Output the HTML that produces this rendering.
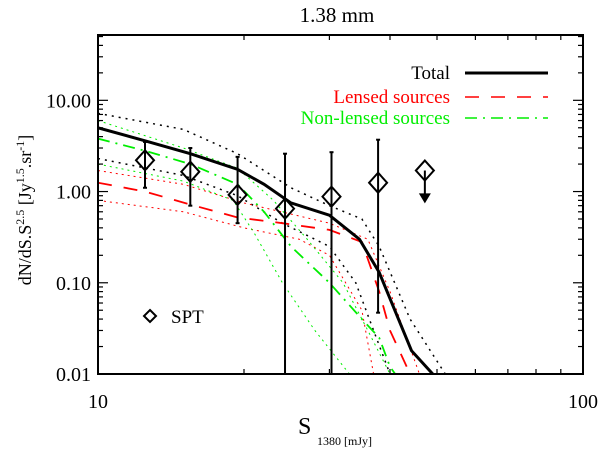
<!DOCTYPE html>
<html><head><meta charset="utf-8"><style>
body{margin:0;background:#fff}
svg text{font-family:"Liberation Serif",serif}
</style></head><body>
<svg id="chart" width="600" height="454" viewBox="0 0 600 454">
<text x="337" y="22" font-size="21" text-anchor="middle">1.38 mm</text>
<g id="plot"></g>
<g id="axes"></g>
<text transform="translate(31,210) rotate(-90)" font-size="18" text-anchor="middle">dN/dS.S<tspan dy="-7" font-size="12">2.5</tspan><tspan dy="7"> [Jy</tspan><tspan dy="-7" font-size="12">1.5</tspan><tspan dy="7">.sr</tspan><tspan dy="-7" font-size="12">-1</tspan><tspan dy="7">]</tspan></text>
<text x="298" y="434" font-size="24">S<tspan x="317" dy="11" font-size="12">1380 [mJy]</tspan></text>
<g>
<text x="450" y="79" font-size="19" text-anchor="end" fill="#000">Total</text>
<line x1="465" y1="73" x2="548" y2="73" stroke="#000" stroke-width="3"/>
<text x="450" y="103" font-size="19" text-anchor="end" fill="#f00">Lensed sources</text>
<line x1="465" y1="97" x2="548" y2="97" stroke="#f00" stroke-width="1.5" stroke-dasharray="14,12"/>
<text x="450" y="124" font-size="19" text-anchor="end" fill="#0e0">Non-lensed sources</text>
<line x1="465" y1="118" x2="548" y2="118" stroke="#0e0" stroke-width="1.5" stroke-dasharray="12,6,2,6"/>
<path d="M150,310 L156,316 L150,322 L144,316 Z" fill="none" stroke="#000" stroke-width="2"/>
<text x="171" y="323" font-size="19">SPT</text>
</g>
</svg>
<script>
const sptS=[12.5,15.5,19.4,24.3,30.3,37.8];
const sptV=[2.2,1.65,0.92,0.65,0.88,1.25];
const sptLo=[1.1,0.7,0.45,0.01,0.01,0.047];
const sptHi=[3.5,3.0,2.4,2.6,2.7,3.7];
const limS=[47.2];const limV=[1.7];const limTo=[0.78];
const totS=[10,12.5,15.5,19.4,22,25,30,34.6,38,44.3,49];
const totV=[5.0,3.6,2.6,1.75,1.2,0.75,0.55,0.3,0.13,0.018,0.01];
const lenS=[10,12.5,15.5,19.4,24,30,35,38,40,44];
const lenV=[1.25,1.0,0.72,0.52,0.45,0.38,0.28,0.08,0.03,0.01];
const nlS=[10,12.5,15.5,19.4,22,25,30,35,38,40,41];
const nlV=[3.8,2.8,2.0,1.2,0.6,0.25,0.1,0.04,0.025,0.012,0.01];
const totUpS=[10,15,19.4,25,30,35,38,44,52];const totUpV=[7.2,4.8,2.6,1.1,0.7,0.5,0.25,0.04,0.01];
const totLoS=[10,15,19.4,24,30,34,37,40];const totLoV=[2.3,1.5,0.9,0.45,0.25,0.1,0.03,0.01];
const lenUpS=[10,15,20,30,36,40,46];const lenUpV=[1.7,1.2,0.75,0.45,0.3,0.08,0.01];
const lenLoS=[10,15,20,26,30,35,37];const lenLoV=[0.8,0.6,0.4,0.3,0.2,0.05,0.01];
const nlUpS=[10,15,19.4,23,27,32,36,40];const nlUpV=[6.0,3.0,1.8,0.8,0.3,0.1,0.03,0.01];
const nlLoS=[10,15,19,21,24,28,33];const nlLoV=[2.0,1.3,0.8,0.35,0.1,0.03,0.01];
const yTicks=[10,1,0.1,0.01];const yLabels=["10.00","1.00","0.10","0.01"];
const xTicks=[10,100];const xLabels=["10","100"];

const L=98,R=583,T=35,B=374,YMIN=-2,YMAX=Math.log10(52);
const sx=s=>L+(Math.log10(s)-1)*(R-L);
const sy=v=>B-(Math.log10(v)-YMIN)/(YMAX-YMIN)*(B-T);
const NS="http://www.w3.org/2000/svg";
const plot=document.getElementById('plot'),axes=document.getElementById('axes');
function mk(tag,at,parent){const e=document.createElementNS(NS,tag);for(const k in at)e.setAttribute(k,at[k]);parent.appendChild(e);return e;}
const clip=mk('clipPath',{id:'cp'},plot);mk('rect',{x:L,y:T,width:R-L,height:B-T},clip);
const g=mk('g',{'clip-path':'url(#cp)'},plot);
function line(S,V,col,w,dash,name){
 const p=mk('polyline',{points:S.map((s,i)=>sx(s)+','+sy(V[i])).join(' '),fill:'none',stroke:col,'stroke-width':w,'stroke-dasharray':dash},g);
 
 
}
line(totUpS,totUpV,'#000',1.5,'2,5','total-upper-bound');
line(totLoS,totLoV,'#000',1.5,'2,5','total-lower-bound');
line(lenUpS,lenUpV,'#f00',1,'2,4','lensed-upper-bound');
line(lenLoS,lenLoV,'#f00',1,'2,4','lensed-lower-bound');
line(nlUpS,nlUpV,'#0e0',1,'2,4','nonlensed-upper-bound');
line(nlLoS,nlLoV,'#0e0',1,'2,4','nonlensed-lower-bound');
line(lenS,lenV,'#f00',1.8,'14,12','lensed-line');
line(nlS,nlV,'#0e0',1.8,'12,6,2,6','nonlensed-line');
line(totS,totV,'#000',3,'','total-line');
sptS.forEach((s,i)=>{
 const x=sx(s),y=sy(sptV[i]);
 const e=mk('line',{x1:x,x2:x,y1:sy(sptHi[i]),y2:Math.min(B,sy(sptLo[i])),stroke:'#000','stroke-width':2},plot);
 
 
 mk('line',{x1:x-2,x2:x+2,y1:sy(sptHi[i]),y2:sy(sptHi[i]),stroke:'#000','stroke-width':2},plot);
 mk('line',{x1:x-2,x2:x+2,y1:Math.min(B,sy(sptLo[i])),y2:Math.min(B,sy(sptLo[i])),stroke:'#000','stroke-width':2},plot);
 const d=mk('path',{d:`M${x},${y-10} L${x+9},${y} L${x},${y+10} L${x-9},${y} Z`,fill:'none',stroke:'#000','stroke-width':2},plot);
 
 
});
limS.forEach((s,i)=>{
 const x=sx(s),y=sy(limV[i]),y2=sy(limTo[i]);
 const d=mk('path',{d:`M${x},${y-10} L${x+9},${y} L${x},${y+10} L${x-9},${y} Z`,fill:'none',stroke:'#000','stroke-width':2},plot);
 
 
 mk('line',{x1:x,x2:x,y1:y,y2:y2-6,stroke:'#000','stroke-width':2},plot);
 mk('path',{d:`M${x-6},${y2-8} L${x+6},${y2-8} L${x},${y2+2} Z`,fill:'#000'},plot);
});
const fr=mk('rect',{x:L,y:T,width:R-L,height:B-T,fill:'none',stroke:'#000','stroke-width':2},axes);


for(let d=-2;d<=1;d++)for(let m=1;m<=9;m++){const v=m*Math.pow(10,d);if(v>52)continue;const y=sy(v),len=m==1?10:5;
 mk('line',{x1:L,x2:L+len,y1:y,y2:y,stroke:'#000','stroke-width':1.2},axes);
 mk('line',{x1:R,x2:R-len,y1:y,y2:y,stroke:'#000','stroke-width':1.2},axes);}
for(let m=2;m<=9;m++){const x=sx(m*10);
 mk('line',{x1:x,x2:x,y1:B,y2:B-5,stroke:'#000','stroke-width':1.2},axes);
 mk('line',{x1:x,x2:x,y1:T,y2:T+5,stroke:'#000','stroke-width':1.2},axes);}
yTicks.forEach((v,i)=>{const t=mk('text',{x:L-7,y:sy(v)+7,'font-size':20,'text-anchor':'end'},axes);t.textContent=yLabels[i];
 
 });
xTicks.forEach((v,i)=>{const t=mk('text',{x:sx(v),y:408,'font-size':20,'text-anchor':'middle'},axes);t.textContent=xLabels[i];
 
 });
</script>
</body></html>
